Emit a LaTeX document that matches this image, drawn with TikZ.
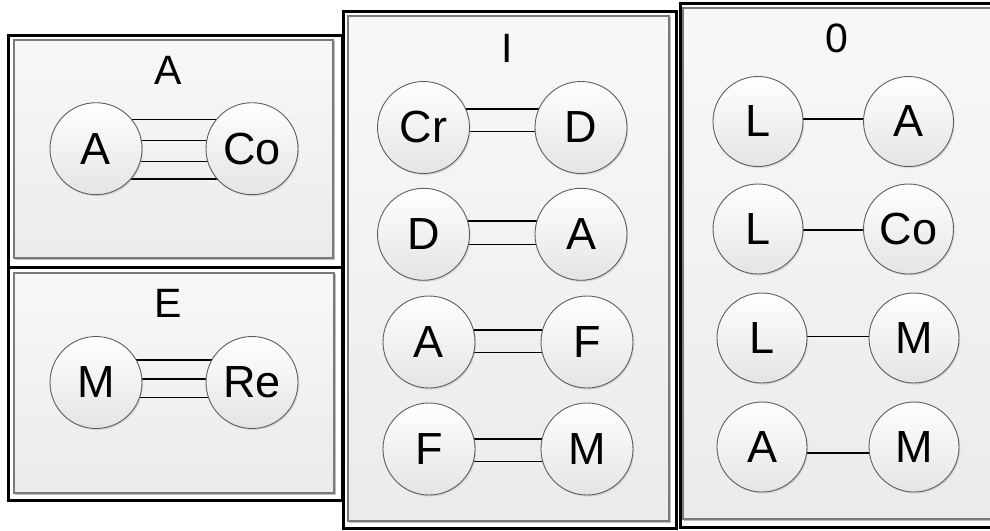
\documentclass[tikz,border=0pt]{standalone}
\usepackage{fontspec}
\setmainfont{Liberation Sans}
\usetikzlibrary{shadows}
\pgfdeclarelayer{back}
\pgfdeclarelayer{mid}
\pgfsetlayers{back,mid,main}
\definecolor{panelTop}{HTML}{F8F8F8}
\definecolor{panelBot}{HTML}{EBEBEB}
\definecolor{panelEdge}{HTML}{7A7A7A}
\definecolor{panelShade}{HTML}{BDBDBD}
\definecolor{ballEdge}{HTML}{5E5E5E}
\definecolor{ballBot}{HTML}{E4E4E4}
\tikzset{
  outerframe/.style={draw=black, line width=3pt, fill=white},
  innerpanel/.style={draw=panelEdge, line width=1.2pt, top color=panelTop, bottom color=panelBot},
  panelshadow/.style={draw=panelShade, line width=1.5pt},
  ball/.style={circle, draw=ballEdge, line width=0.9pt, minimum size=92pt, inner sep=0pt,
    top color=white, bottom color=ballBot,
    drop shadow={opacity=0.22, shadow xshift=1.2pt, shadow yshift=-1.6pt},
    font=\fontsize{45}{45}\selectfont},
  ballsm/.style={ball, minimum size=90pt},
  paneltitle/.style={anchor=base, inner sep=0pt, font=\fontsize{41}{41}\selectfont},
  bond/.style={draw=black, line width=1.5pt},
}
\begin{document}
\begin{tikzpicture}[x=1pt, y=-1pt]
\useasboundingbox (0,0) rectangle (990,530);

% ---------- frames ----------
\begin{pgfonlayer}{back}
  \fill[white] (0,0) rectangle (990,530);
  % panel A
  \draw[outerframe] (8.5,35) rectangle (342,267);
  \draw[panelshadow] (15.5,41.5) rectangle (334.5,259.5);
  \draw[innerpanel] (14,40) rectangle (333,258);
  % panel E
  \draw[outerframe] (8.5,267) rectangle (342,500);
  \draw[panelshadow] (15.5,274.5) rectangle (335.5,494.5);
  \draw[innerpanel] (14,273) rectangle (334,493);
  % panel I
  \draw[outerframe] (343,11) rectangle (676,528);
  \draw[panelshadow] (349.5,17.5) rectangle (670.5,522.5);
  \draw[innerpanel] (348,16) rectangle (669,521);
  % panel 0
  \draw[outerframe] (680,3) rectangle (998,527);
  \draw[panelshadow] (684.5,9.5) rectangle (994.5,520.5);
  \draw[innerpanel] (683,8) rectangle (993,519);
\end{pgfonlayer}

% ---------- titles ----------
\node[paneltitle] (tA) at (168,84) {A};
\node[paneltitle] (tE) at (168,317) {E};
\node[paneltitle] (tI) at (507,62) {I};
\node[paneltitle] (t0) at (837,52) {0};

% ---------- panel A ----------
\node[ball] (aA)  at (96,148.7) {A};
\node[ball] (aCo) at (252,148.7) {Co};
% ---------- panel E ----------
\node[ball] (eM)  at (96,382.5) {M};
\node[ball] (eRe) at (252,382.5) {Re};
% ---------- panel I ----------
\node[ball] (i1a) at (423.5,127.5) {Cr};
\node[ball] (i1b) at (581,127.5) {D};
\node[ball] (i2a) at (423.5,234.3) {D};
\node[ball] (i2b) at (581,234.3) {A};
\node[ball] (i3a) at (429,342) {A};
\node[ball] (i3b) at (587,342) {F};
\node[ball] (i4a) at (429,449) {F};
\node[ball] (i4b) at (587,449) {M};
% ---------- panel 0 ----------
\node[ballsm] (o1a) at (758,121.5) {L};
\node[ballsm] (o1b) at (908.5,121.5) {A};
\node[ballsm] (o2a) at (758,229) {L};
\node[ballsm] (o2b) at (908.5,229) {Co};
\node[ballsm] (o3a) at (762,338) {L};
\node[ballsm] (o3b) at (914,338) {M};
\node[ballsm] (o4a) at (762,447) {A};
\node[ballsm] (o4b) at (914,447) {M};

% ---------- bonds ----------
\begin{pgfonlayer}{mid}
  % A - Co (four lines)
  \draw[bond] ([yshift=29.4pt]aA.center) -- ([yshift=29.4pt]aCo.center);
  \draw[bond] ([yshift=8pt]aA.center) -- ([yshift=8pt]aCo.center);
  \draw[bond] ([yshift=-13pt]aA.center) -- ([yshift=-13pt]aCo.center);
  \draw[bond] ([yshift=-30.3pt]aA.center) -- ([yshift=-30.3pt]aCo.center);
  % M - Re (three lines)
  \draw[bond] ([yshift=22.5pt]eM.center) -- ([yshift=22.5pt]eRe.center);
  \draw[bond] ([yshift=3.5pt]eM.center) -- ([yshift=3.5pt]eRe.center);
  \draw[bond] ([yshift=-15.2pt]eM.center) -- ([yshift=-15.2pt]eRe.center);
  % panel I (double lines)
  \draw[bond] ([yshift=18.5pt]i1a.center) -- ([yshift=18.5pt]i1b.center);
  \draw[bond] ([yshift=-4pt]i1a.center) -- ([yshift=-4pt]i1b.center);
  \draw[bond] ([yshift=13.3pt]i2a.center) -- ([yshift=13.3pt]i2b.center);
  \draw[bond] ([yshift=-10pt]i2a.center) -- ([yshift=-10pt]i2b.center);
  \draw[bond] ([yshift=12pt]i3a.center) -- ([yshift=12pt]i3b.center);
  \draw[bond] ([yshift=-10.7pt]i3a.center) -- ([yshift=-10.7pt]i3b.center);
  \draw[bond] ([yshift=10pt]i4a.center) -- ([yshift=10pt]i4b.center);
  \draw[bond] ([yshift=-12.7pt]i4a.center) -- ([yshift=-12.7pt]i4b.center);
  % panel 0 (single lines)
  \draw[bond] ([yshift=2.5pt]o1a.center) -- ([yshift=2.5pt]o1b.center);
  \draw[bond] ([yshift=-1pt]o2a.center) -- ([yshift=-1pt]o2b.center);
  \draw[bond] ([yshift=1.3pt]o3a.center) -- ([yshift=1.3pt]o3b.center);
  \draw[bond] ([yshift=-6pt]o4a.center) -- ([yshift=-6pt]o4b.center);
\end{pgfonlayer}
\end{tikzpicture}
\end{document}
